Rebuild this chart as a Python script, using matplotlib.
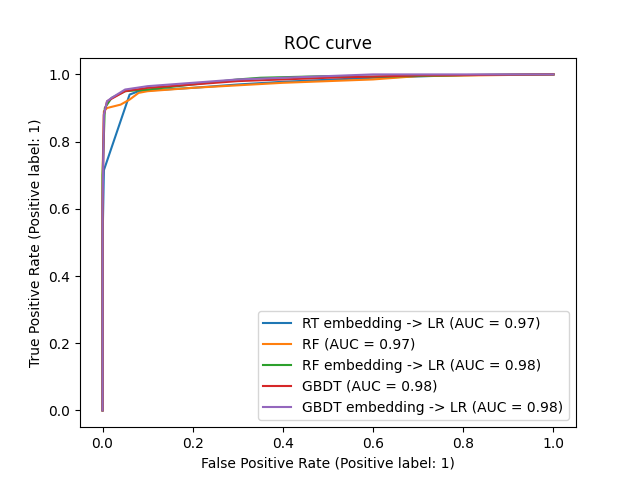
import numpy as np
import matplotlib.pyplot as plt

# ROC-punkter lest av bildet
rt_fpr = [0.0, 0.0, 0.003, 0.06, 0.08, 0.1, 0.2, 0.3, 0.4, 0.6, 0.8, 1.0]
rt_tpr = [0.0, 0.5, 0.715, 0.94, 0.95, 0.952, 0.96, 0.97, 0.978, 0.99, 0.998, 1.0]

rf_fpr = [0.0, 0.0, 0.003, 0.01, 0.04, 0.06, 0.08, 0.1, 0.2, 0.4, 0.6, 0.7, 1.0]
rf_tpr = [0.0, 0.7, 0.89, 0.9, 0.91, 0.925, 0.945, 0.95, 0.96, 0.975, 0.985, 0.995, 1.0]

rfe_fpr = [0.0, 0.0, 0.005, 0.02, 0.05, 0.1, 0.2, 0.3, 0.35, 0.5, 0.6, 0.8, 1.0]
rfe_tpr = [0.0, 0.7, 0.9, 0.93, 0.95, 0.955, 0.97, 0.985, 0.99, 0.995, 0.993, 0.998, 1.0]

gb_fpr = [0.0, 0.0, 0.003, 0.01, 0.05, 0.1, 0.3, 0.5, 0.7, 1.0]
gb_tpr = [0.0, 0.6, 0.88, 0.92, 0.95, 0.96, 0.98, 0.99, 0.997, 1.0]

gbe_fpr = [0.0, 0.0, 0.003, 0.01, 0.02, 0.05, 0.1, 0.2, 0.3, 0.5, 0.6, 1.0]
gbe_tpr = [0.0, 0.6, 0.88, 0.92, 0.93, 0.955, 0.965, 0.975, 0.985, 0.995, 1.0, 1.0]

kurver = [
    (rt_fpr, rt_tpr, "RT embedding -> LR (AUC = 0.97)"),
    (rf_fpr, rf_tpr, "RF (AUC = 0.97)"),
    (rfe_fpr, rfe_tpr, "RF embedding -> LR (AUC = 0.98)"),
    (gb_fpr, gb_tpr, "GBDT (AUC = 0.98)"),
    (gbe_fpr, gbe_tpr, "GBDT embedding -> LR (AUC = 0.98)"),
]

fig, ax = plt.subplots(figsize=(6.4, 4.8), dpi=100)
for fpr, tpr, navn in kurver:
    ax.plot(fpr, tpr, label=navn)
ax.set_xlabel("False Positive Rate (Positive label: 1)")
ax.set_ylabel("True Positive Rate (Positive label: 1)")
ax.set_title("ROC curve")
ax.legend(loc="lower right")
fig.savefig("out.png")
